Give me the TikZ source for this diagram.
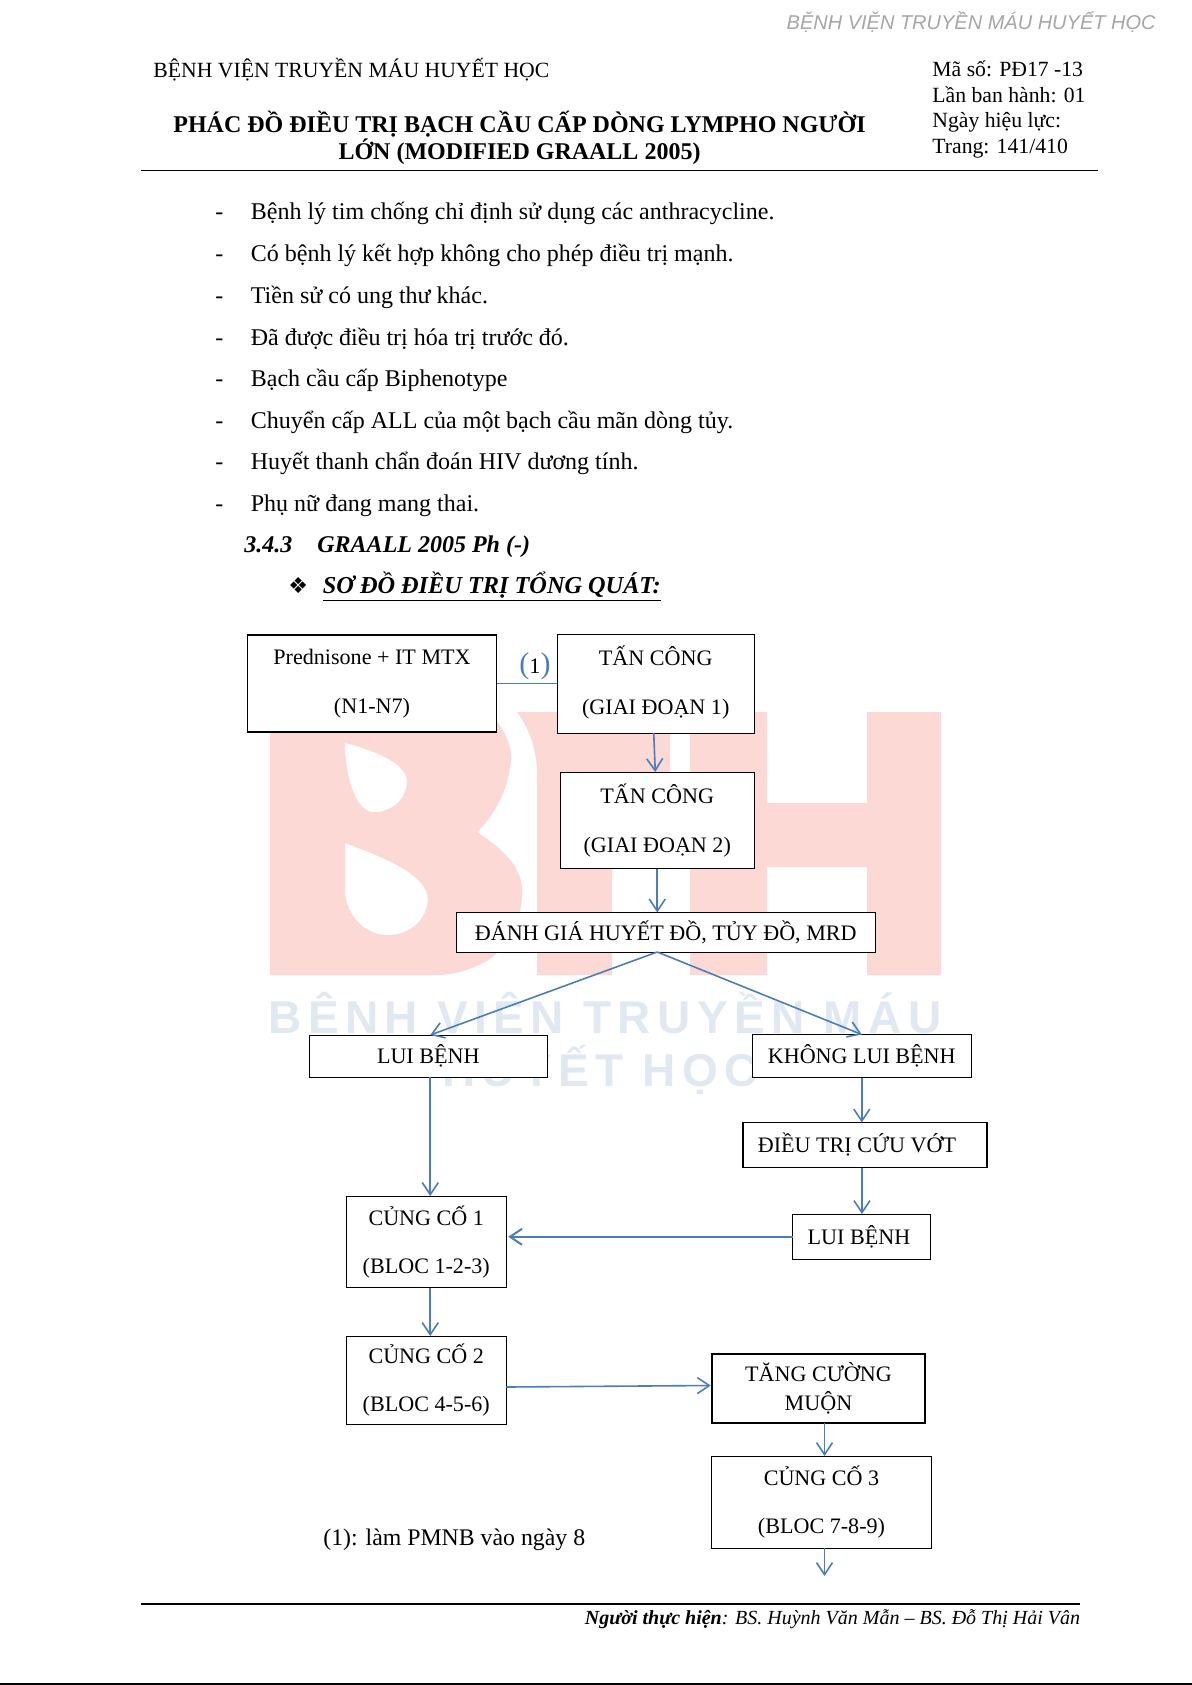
\documentclass[tikz,border=0pt]{standalone}
\usepackage{fontspec}
\setmainfont{Liberation Serif}
\setsansfont{Liberation Sans}
\newfontfamily\symbolfont{DejaVu Sans}
\newfontfamily\markfont[LetterSpace=14]{Liberation Sans}
\usepackage{xcolor}
\usepackage{tikz}
\usetikzlibrary{positioning, arrows.meta}
\definecolor{flowblue}{HTML}{4A7EBB}
\definecolor{markred}{HTML}{FCD9D5}
\definecolor{markblue}{HTML}{E0E9F2}
\newcommand{\bodysize}{\fontsize{12}{14}\selectfont}
\newcommand{\boxsize}{\fontsize{11.05}{13.5}\selectfont}
\newcommand{\headsize}{\fontsize{10.85}{13}\selectfont}
\tikzset{
    >={Straight Barb[length=6pt,width=8pt]},
    block/.style={draw, line width=0.5pt, rectangle, fill=white, align=center, inner sep=0pt, outer sep=0pt, font=\boxsize},
    heavyblock/.style={block, line width=0.8pt},
    flow/.style={->, draw=flowblue, line width=0.8pt},
    textline/.style={inner sep=0pt, anchor=base west, font=\bodysize},
    headline/.style={textline, font=\headsize},
    markletter/.style={inner sep=0pt, text=markblue, font=\markfont\bfseries\fontsize{23}{23}\selectfont},
}

\begin{document}
\begin{tikzpicture}[x=0.5pt, y=-0.5pt]
    \useasboundingbox (0,0) rectangle (1192,1685);

    % watermark
    \fill[markred, even odd rule] (270,712) -- (490,712)
        .. controls (505,730) and (515,750) .. (510,767)
        .. controls (507,795) and (490,820) .. (477,832)
        .. controls (505,850) and (525,870) .. (522,897)
        .. controls (520,930) and (500,955) .. (483,963)
        .. controls (465,972) and (450,975) .. (437,975) -- (270,975) -- cycle
        (345,743) .. controls (380,752) and (408,765) .. (407,783)
        .. controls (405,805) and (385,813) .. (372,812)
        .. controls (355,810) and (345,775) .. (345,743) -- cycle
        (345,843) .. controls (385,858) and (428,875) .. (428,900)
        .. controls (425,925) and (405,936) .. (385,935)
        .. controls (360,933) and (345,910) .. (345,890) -- cycle;
    \fill[markred] (517,712) .. controls (530,730) and (537,750) .. (537,775)
        -- (537,975) -- (612,975) -- (612,790) -- (670,790) -- (670,712) -- cycle;
    \fill[markred] (690,712) -- (767,712) -- (767,803) -- (867,803) -- (867,712) -- (941,712)
        -- (941,975) -- (867,975) -- (867,867) -- (767,867) -- (767,975) -- (690,975) -- cycle;
    \node[markletter] (markone) at (605,1017) {BỆNH VIỆN TRUYỀN MÁU};
    \node[markletter] (marktwo) at (600,1070) {HUYẾT HỌC};

    % page header
    \node[textline, anchor=base east, text=black!35, font=\sffamily\itshape\fontsize{10}{12}\selectfont] (pagehead) at (1156,30) {BỆNH VIỆN TRUYỀN MÁU HUYẾT HỌC};
    \node[headline] (hospital) at (153,78) {BỆNH VIỆN TRUYỀN MÁU HUYẾT HỌC};
    \node[textline, anchor=base, font=\bodysize\bfseries] (titleone) at (519.5,133) {PHÁC ĐỒ ĐIỀU TRỊ BẠCH CẦU CẤP DÒNG LYMPHO NGƯỜI};
    \node[textline, anchor=base, font=\bodysize\bfseries] (titletwo) at (519.5,160) {LỚN (MODIFIED GRAALL 2005)};
    \node[headline] (docnum) at (932,77) {Mã số: PĐ17 -13};
    \node[headline] (issue) at (932,103) {Lần ban hành: 01};
    \node[headline] (effect) at (932,128) {Ngày hiệu lực:};
    \node[headline] (pagenum) at (932,154) {Trang: 141/410};
    \draw[line width=0.5pt] (141,170.5) -- (1098,170.5);

    % exclusion list
    \node[textline] (dashone) at (215,220) {-};
    \node[textline] (itemone) at (250.5,220) {Bệnh lý tim chống chỉ định sử dụng các anthracycline.};
    \node[textline] (dashtwo) at (215,262) {-};
    \node[textline] (itemtwo) at (250.5,262) {Có bệnh lý kết hợp không cho phép điều trị mạnh.};
    \node[textline] (dashthree) at (215,303.5) {-};
    \node[textline] (itemthree) at (250.5,303.5) {Tiền sử có ung thư khác.};
    \node[textline] (dashfour) at (215,345) {-};
    \node[textline] (itemfour) at (250.5,345) {Đã được điều trị hóa trị trước đó.};
    \node[textline] (dashfive) at (215,386.5) {-};
    \node[textline] (itemfive) at (250.5,386.5) {Bạch cầu cấp Biphenotype};
    \node[textline] (dashsix) at (215,428) {-};
    \node[textline] (itemsix) at (250.5,428) {Chuyển cấp ALL của một bạch cầu mãn dòng tủy.};
    \node[textline] (dashseven) at (215,469.5) {-};
    \node[textline] (itemseven) at (250.5,469.5) {Huyết thanh chẩn đoán HIV dương tính.};
    \node[textline] (dasheight) at (215,511) {-};
    \node[textline] (itemeight) at (250.5,511) {Phụ nữ đang mang thai.};
    \node[textline, font=\bodysize\bfseries\itshape] (secnum) at (244,552) {3.4.3};
    \node[textline, font=\bodysize\bfseries\itshape] (secname) at (317,552) {GRAALL 2005 Ph (-)};
    \node[textline, font=\symbolfont\fontsize{11}{13}\selectfont] (secmark) at (288,593) {❖};
    \node[textline, font=\fontsize{12.15}{14}\selectfont\bfseries\itshape] (schema) at (322.5,593) {\underline{SƠ ĐỒ ĐIỀU TRỊ TỔNG QUÁT:}};

    % flow chart
    \node[heavyblock, minimum width=124.5pt, minimum height=48.5pt] (pred) at (372,683.5) {Prednisone + IT MTX\\[10.7pt](N1-N7)};
    \node[block, right=30.25pt of pred, minimum width=98.75pt, minimum height=49.5pt] (atkone) {TẤN CÔNG\\[10.7pt](GIAI ĐOẠN 1)\\[-10.3pt]~};
    \node[block, below=19.5pt of atkone, xshift=0.75pt, minimum width=97pt, minimum height=48.25pt] (atktwo) {TẤN CÔNG\\[10.7pt](GIAI ĐOẠN 2)\\[-11.5pt]~};
    \node[block, below=22pt of atktwo, xshift=4.25pt, minimum width=209.5pt, minimum height=19.75pt] (assess) {ĐÁNH GIÁ HUYẾT ĐỒ, TỦY ĐỒ, MRD};
    \node[block, below=41.5pt of assess, xshift=-118.75pt, minimum width=119.25pt, minimum height=21pt] (remit) {LUI BỆNH};
    \node[block, right=102.25pt of remit, minimum width=109.75pt, minimum height=21.5pt] (noremit) {KHÔNG LUI BỆNH};
    \node[heavyblock, below=22.5pt of noremit, xshift=1.6pt, minimum width=122pt, minimum height=22.5pt] (salvage) {ĐIỀU TRỊ CỨU VỚT\hspace{8pt}};
    \node[block, below=23.25pt of salvage, xshift=-1.5pt, minimum width=69pt, minimum height=22.75pt] (remitlate) {LUI BỆNH\hspace{3pt}};
    \node[block, below=59.5pt of remit, xshift=-1pt, minimum width=80pt, minimum height=45.75pt] (consone) {CỦNG CỐ 1\\[10.7pt](BLOC 1-2-3)};
    \node[block, below=24.25pt of consone, minimum width=80pt, minimum height=44pt] (constwo) {CỦNG CỐ 2\\[10.7pt](BLOC 4-5-6)};
    \node[heavyblock, right=102.75pt of constwo, yshift=-4.25pt, minimum width=106.75pt, minimum height=34.5pt] (boost) {TĂNG CƯỜNG\\[1pt]MUỘN};
    \node[block, below=16.5pt of boost, xshift=1.5pt, minimum width=109.75pt, minimum height=46pt] (consthree) {CỦNG CỐ 3\\[10.7pt](BLOC 7-8-9)};
    \coordinate[below=14pt of consthree, xshift=1.5pt] (onward);
    \node[inner sep=0pt, font=\boxsize] (dayeight) at (535,666) {{\color{flowblue}\fontsize{15}{15}\selectfont(}1{\color{flowblue}\fontsize{15}{15}\selectfont)}};
    \node[textline, font=\fontsize{11.9}{14}\selectfont] (note) at (323,1545) {(1): làm PMNB vào ngày 8};

    \draw[draw=flowblue, line width=0.5pt] (pred.east) -- (atkone.west);
    \draw[flow] ([xshift=-1pt]atkone.south) -- ([xshift=-1pt]atktwo.north);
    \draw[flow] (atktwo.south) -- (atktwo.south |- assess.north);
    \draw[flow] (atktwo.south |- assess.south) -- ([xshift=1pt]remit.north);
    \draw[flow] (atktwo.south |- assess.south) -- (noremit.north);
    \draw[flow] ([xshift=1pt]remit.south) -- ([xshift=1pt]remit.south |- consone.north);
    \draw[flow] (noremit.south) -- (noremit.south |- salvage.north);
    \draw[flow] (remitlate.north |- salvage.south) -- (remitlate.north);
    \draw[flow, line width=1pt] (remitlate.west) -- ([xshift=1pt]remitlate.west -| consone.east);
    \draw[flow] ([xshift=2pt]consone.south) -- ([xshift=2pt]constwo.north);
    \draw[flow] ([yshift=-3.5pt]constwo.east) -- ([yshift=1.5pt,xshift=-0.5pt]boost.west);
    \draw[flow] ([xshift=3pt]boost.south) -- ([xshift=1.5pt]consthree.north);
    \draw[flow] ([xshift=1.5pt]consthree.south) -- (onward);

    % page footer
    \draw[line width=1.2pt] (141,1604) -- (1080,1604);
    \node[textline, anchor=base east, font=\itshape\fontsize{10}{12}\selectfont] (author) at (1080.5,1624) {\textbf{Người thực hiện}: BS. Huỳnh Văn Mẫn – BS. Đỗ Thị Hải Vân};
    \draw[line width=0.6pt] (0,1684) -- (1192,1684);
\end{tikzpicture}
\end{document}
